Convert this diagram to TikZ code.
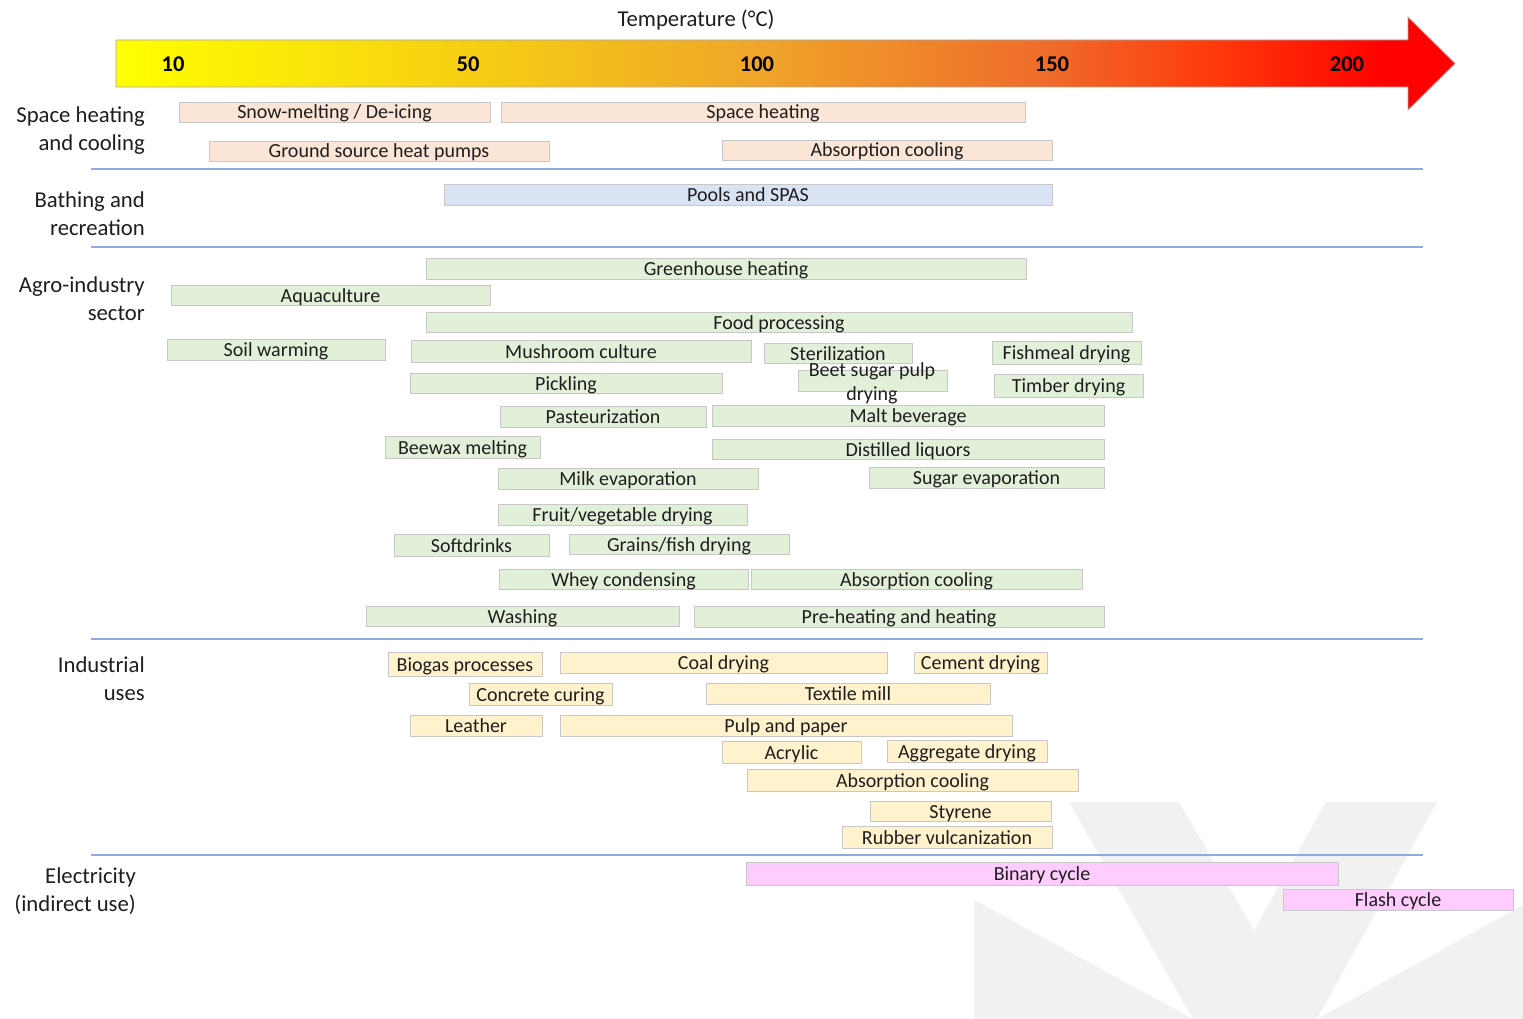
\documentclass[tikz,border=0pt]{standalone}
\usepackage{fontspec}
\setmainfont{Carlito}
\definecolor{gc0}{HTML}{FFFF00}
\definecolor{gc1}{HTML}{F6CF12}
\definecolor{gc2}{HTML}{F0A52A}
\definecolor{gc3}{HTML}{EF6A2A}
\definecolor{gc4}{HTML}{FF3A0A}
\definecolor{gc5}{HTML}{FF0000}
\definecolor{shfill}{HTML}{FBE5D6}
\definecolor{brfill}{HTML}{DAE3F3}
\definecolor{agfill}{HTML}{E2F0D9}
\definecolor{infill}{HTML}{FFF2CC}
\definecolor{elfill}{HTML}{FFCCFF}
\definecolor{sepcol}{HTML}{8FAADC}
\definecolor{wmcol}{HTML}{F1F1F1}
\definecolor{txtcol}{HTML}{1E1E1E}
\pgfdeclarehorizontalshading{tempgrad}{100bp}{color(0bp)=(gc0); color(25bp)=(gc0); color(38bp)=(gc1); color(49bp)=(gc2); color(60bp)=(gc3); color(66bp)=(gc4); color(72.5bp)=(gc5); color(100bp)=(gc5)}
\newcommand{\bx}[7]{%
  \node[#2, minimum width={#4-#3}, minimum height={#6-#5}] (#1) at ({(#3+#4)/2},{(#5+#6)/2}) {#7};}
\tikzset{
  itembox/.style={draw=black!22, line width=0.6pt, inner sep=0pt, outer sep=0pt,
    font=\fontsize{20}{24}\selectfont, text=txtcol, text height=16pt, text depth=2pt},
  sh/.style={itembox, fill=shfill},
  br/.style={itembox, fill=brfill},
  ag/.style={itembox, fill=agfill},
  ind/.style={itembox, fill=infill},
  el/.style={itembox, fill=elfill},
  rowlabel/.style={anchor=east, align=right, inner sep=0pt, text=txtcol,
    font=\fontsize{22.7}{28}\selectfont},
  tick/.style={font=\fontsize{22.5}{26}\selectfont\bfseries, text=black, inner sep=0pt},
  sepline/.style={draw=sepcol, line width=1.2pt},
  wmark/.style={fill=wmcol}
}
\begin{document}
\begin{tikzpicture}[x=1pt, y=-1pt]
\useasboundingbox (0,0) rectangle (1523,1019);
% watermark
\fill[wmark] (974,900) -- (1193,1019) -- (974,1019) -- cycle;
\fill[wmark] (1069,802) -- (1179,802) -- (1254,930) -- (1326,802) -- (1437,802) -- (1317,1019) -- (1193,1019) -- cycle;
\fill[wmark] (1523,905) -- (1523,1019) -- (1317,1019) -- cycle;
% title
\node[font=\fontsize{22.7}{26}\selectfont, text=txtcol, inner sep=0pt] (title) at (696,20) {Temperature (°C)};
% arrow
\path[shading=tempgrad, draw=black!35, line width=0.8pt]
  (116,40) -- (1408,40) -- (1408,17) -- (1455,63.5) -- (1408,110) -- (1408,87) -- (116,87) -- cycle;
\node[tick] (t10) at (173,64) {10};
\node[tick] (t50) at (468,64) {50};
\node[tick] (t100) at (757,64) {100};
\node[tick] (t150) at (1052,64) {150};
\node[tick] (t200) at (1347,64) {200};
% row labels
\node[rowlabel] (lsh) at (145,131) {Space heating\\and cooling};
\node[rowlabel] (lbr) at (145,214) {Bathing and\\recreation};
\node[rowlabel] (lag) at (145,299) {Agro-industry\\sector};
\node[rowlabel] (lin) at (145,679) {Industrial\\uses};
\node[rowlabel] (lel) at (136,891) {Electricity\\(indirect use)};
% separators
\draw[sepline] (91,169) -- (1423,169);
\draw[sepline] (91,247) -- (1423,247);
\draw[sepline] (91,639) -- (1423,639);
\draw[sepline] (91,855) -- (1423,855);
% space heating and cooling
\bx{snow}{sh}{179}{490}{102}{122}{Snow-melting / De-icing}
\bx{spaceh}{sh}{501}{1025}{102}{122}{Space heating}
\bx{gshp}{sh}{209}{549}{141}{161}{Ground source heat pumps}
\bx{abs1}{sh}{722}{1052}{140}{160}{Absorption cooling}
% bathing
\bx{pools}{br}{444}{1052}{184}{205}{Pools and SPAS}
% agro-industry
\bx{green}{ag}{426}{1026}{258}{279}{Greenhouse heating}
\bx{aqua}{ag}{171}{490}{285}{305}{Aquaculture}
\bx{food}{ag}{426}{1132}{312}{332}{Food processing}
\bx{soil}{ag}{167}{385}{339}{360}{Soil warming}
\bx{mush}{ag}{411}{751}{340}{362}{Mushroom culture}
\bx{steril}{ag}{764}{912}{343}{363}{Sterilization}
\bx{fish}{ag}{992}{1141}{341}{364}{Fishmeal drying}
\bx{pick}{ag}{410}{722}{373}{393}{Pickling}
\bx{beet}{ag}{798}{947}{370}{391}{}
\node[font=\fontsize{20}{24}\selectfont, text=txtcol, align=center, inner sep=0pt] (beettext) at (872,383) {Beet sugar pulp\\drying};
\bx{timber}{ag}{994}{1143}{374}{397}{Timber drying}
\bx{past}{ag}{500}{706}{406}{427}{Pasteurization}
\bx{malt}{ag}{712}{1104}{405}{426}{Malt beverage}
\bx{bee}{ag}{385}{540}{436}{458}{Beewax melting}
\bx{dist}{ag}{712}{1104}{439}{459}{Distilled liquors}
\bx{milk}{ag}{498}{758}{468}{489}{Milk evaporation}
\bx{sugar}{ag}{869}{1104}{467}{488}{Sugar evaporation}
\bx{fruit}{ag}{498}{747}{504}{525}{Fruit/vegetable drying}
\bx{soft}{ag}{394}{549}{534}{556}{Softdrinks}
\bx{grain}{ag}{569}{789}{534}{554}{Grains/fish drying}
\bx{whey}{ag}{499}{748}{569}{589}{Whey condensing}
\bx{abs2}{ag}{751}{1082}{569}{589}{Absorption cooling}
\bx{wash}{ag}{366}{679}{606}{626}{Washing}
\bx{preh}{ag}{694}{1104}{606}{627}{Pre-heating and heating}
% industrial
\bx{biogas}{ind}{388}{542}{652}{676}{Biogas processes}
\bx{coal}{ind}{560}{887}{652}{673}{Coal drying}
\bx{cement}{ind}{914}{1047}{652}{673}{Cement drying}
\bx{concrete}{ind}{469}{612}{683}{705}{Concrete curing}
\bx{textile}{ind}{706}{990}{683}{704}{Textile mill}
\bx{leather}{ind}{410}{542}{715}{736}{Leather}
\bx{pulp}{ind}{560}{1012}{715}{736}{Pulp and paper}
\bx{acryl}{ind}{722}{861}{741}{763}{Acrylic}
\bx{aggr}{ind}{887}{1047}{740}{762}{Aggregate drying}
\bx{abs3}{ind}{747}{1078}{769}{791}{Absorption cooling}
\bx{styr}{ind}{870}{1051}{801}{821}{Styrene}
\bx{rubber}{ind}{842}{1052}{826}{848}{Rubber vulcanization}
% electricity
\bx{binary}{el}{746}{1338}{862}{885}{Binary cycle}
\bx{flash}{el}{1283}{1513}{889}{910}{Flash cycle}
\end{tikzpicture}
\end{document}
